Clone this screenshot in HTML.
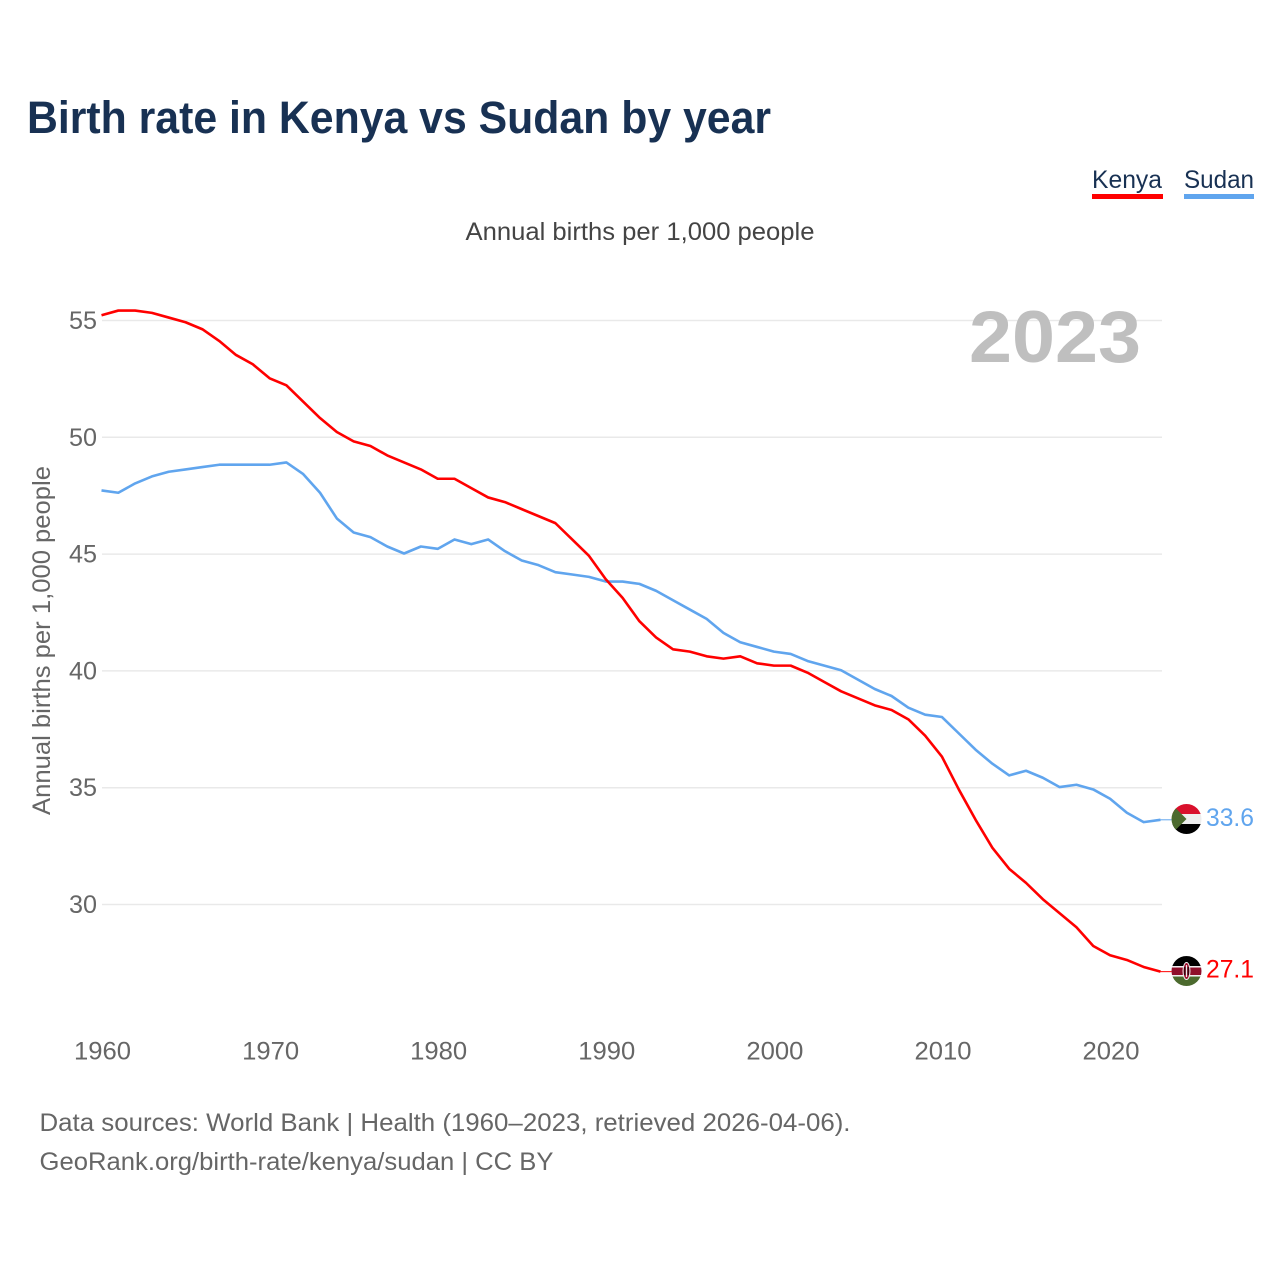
<!DOCTYPE html>
<html lang="en">
<head>
<meta charset="utf-8">
<title>Birth rate in Kenya vs Sudan by year</title>
<style>
html,body{margin:0;padding:0;background:#fff;}
svg{display:block;font-family:"Liberation Sans",sans-serif;}
</style>
</head>
<body>
<svg id="chart" xmlns="http://www.w3.org/2000/svg" width="1280" height="1280" viewBox="0 0 1280 1280">
  <defs>
    <clipPath id="flag-clip-sudan"><circle cx="0" cy="0" r="15"/></clipPath>
    <clipPath id="flag-clip-kenya"><circle cx="0" cy="0" r="15"/></clipPath>
  </defs>
  <rect x="0" y="0" width="1280" height="1280" fill="#fff"/>
  <text x="27" y="133" font-size="45" font-weight="700" fill="#183153" textLength="744" lengthAdjust="spacingAndGlyphs">Birth rate in Kenya vs Sudan by year</text>
  <g>
    <text x="1092" y="188" font-size="25" fill="#183153" textLength="70" lengthAdjust="spacingAndGlyphs">Kenya</text>
    <rect x="1092" y="194" width="71" height="5" fill="#ff0000"/>
  </g>
  <g>
    <text x="1184" y="188" font-size="25" fill="#183153" textLength="70" lengthAdjust="spacingAndGlyphs">Sudan</text>
    <rect x="1184" y="194" width="70" height="5" fill="#60a5ee"/>
  </g>
  <text x="465.500" y="240" font-size="25" fill="#444" textLength="349" lengthAdjust="spacingAndGlyphs">Annual births per 1,000 people</text>
  <text transform="translate(50,815) rotate(-90)" x="0" y="0" font-size="25" fill="#666" textLength="349" lengthAdjust="spacingAndGlyphs">Annual births per 1,000 people</text>
  <g id="grid"></g>
  <text x="969" y="362" font-size="73" font-weight="700" fill="#bfbfbf" textLength="172" lengthAdjust="spacingAndGlyphs">2023</text>
  <g id="y-ticks"></g>
  <g id="x-ticks"></g>
  <g id="series" transform="translate(-0.5,-0.6)"></g>

  <g id="flag-sudan">
    <g clip-path="url(#flag-clip-sudan)">
      <rect x="-15" y="-15" width="30" height="10" fill="#d9102c"/>
      <rect x="-15" y="-5" width="30" height="10" fill="#eeeeee"/>
      <rect x="-15" y="5" width="30" height="10" fill="#000"/>
      <polygon points="-15,-15 0,0 -15,15" fill="#4c6a2e"/>
    </g>
  </g>
  <g id="flag-kenya">
    <g clip-path="url(#flag-clip-kenya)">
      <rect x="-15" y="-15" width="30" height="10" fill="#000"/>
      <rect x="-15" y="-5" width="30" height="1.500" fill="#eee"/>
      <rect x="-15" y="-3.500" width="30" height="7.500" fill="#8f0f2b"/>
      <rect x="-15" y="4" width="30" height="1.500" fill="#eee"/>
      <rect x="-15" y="5.500" width="30" height="9.500" fill="#4c6a2e"/>
      <ellipse cx="0" cy="0" rx="3.500" ry="8.500" fill="#a01030" stroke="#eee" stroke-width="1"/>
      <rect x="-0.600" y="-6" width="1.200" height="12" fill="#eee"/>
      <rect x="-2.200" y="-4" width="1" height="8" fill="#000"/>
      <rect x="1.200" y="-4" width="1" height="8" fill="#000"/>
    </g>
  </g>
  <text id="label-sudan" x="1254" font-size="25" fill="#60a5ee" text-anchor="end" textLength="48" lengthAdjust="spacingAndGlyphs"></text>
  <text id="label-kenya" x="1254" font-size="25" fill="#ff0000" text-anchor="end" textLength="48" lengthAdjust="spacingAndGlyphs"></text>

  <text x="39.500" y="1131" font-size="25" fill="#666" textLength="811" lengthAdjust="spacingAndGlyphs">Data sources: World Bank | Health (1960–2023, retrieved 2026-04-06).</text>
  <text x="39.500" y="1170" font-size="25" fill="#666" textLength="514" lengthAdjust="spacingAndGlyphs">GeoRank.org/birth-rate/kenya/sudan | CC BY</text>
</svg>
<script>
var years = [1960,1961,1962,1963,1964,1965,1966,1967,1968,1969,1970,1971,1972,1973,1974,1975,1976,1977,1978,1979,1980,1981,1982,1983,1984,1985,1986,1987,1988,1989,1990,1991,1992,1993,1994,1995,1996,1997,1998,1999,2000,2001,2002,2003,2004,2005,2006,2007,2008,2009,2010,2011,2012,2013,2014,2015,2016,2017,2018,2019,2020,2021,2022,2023];
var kenyaValues = [55.2,55.4,55.4,55.3,55.1,54.9,54.6,54.1,53.5,53.1,52.5,52.2,51.5,50.8,50.2,49.8,49.6,49.2,48.9,48.6,48.2,48.2,47.8,47.4,47.2,46.9,46.6,46.3,45.6,44.9,43.9,43.1,42.1,41.4,40.9,40.8,40.6,40.5,40.6,40.3,40.2,40.2,39.9,39.5,39.1,38.8,38.5,38.3,37.9,37.2,36.3,34.9,33.6,32.4,31.5,30.9,30.2,29.6,29.0,28.2,27.8,27.6,27.3,27.1];
var sudanValues = [47.7,47.6,48.0,48.3,48.5,48.6,48.7,48.8,48.8,48.8,48.8,48.9,48.4,47.6,46.5,45.9,45.7,45.3,45.0,45.3,45.2,45.6,45.4,45.6,45.1,44.7,44.5,44.2,44.1,44.0,43.8,43.8,43.7,43.4,43.0,42.6,42.2,41.6,41.2,41.0,40.8,40.7,40.4,40.2,40.0,39.6,39.2,38.9,38.4,38.1,38.0,37.3,36.6,36.0,35.5,35.7,35.4,35.0,35.1,34.9,34.5,33.9,33.5,33.6];
var yTickValues = [30,35,40,45,50,55];
var xTickValues = [1960,1970,1980,1990,2000,2010,2020];

var SVG_NS = 'http://www.w3.org/2000/svg';
function xScale(year){ return 102 + (year - 1960) * (1161 - 102) / 63; }
function yScale(value){ return 904.5 - (value - 30) * (904.5 - 320.5) / 25; }
function make(tag, attrs, parent){
  var el = document.createElementNS(SVG_NS, tag);
  for (var k in attrs) el.setAttribute(k, attrs[k]);
  parent.appendChild(el);
  return el;
}

var gridGroup = document.getElementById('grid');
var yGroup = document.getElementById('y-ticks');
yTickValues.forEach(function(v){
  var line = make('line', {x1:102, x2:1162, y1:yScale(v), y2:yScale(v), stroke:'#e9e9e9', 'stroke-width':1.5}, gridGroup);
  
  
  var label = make('text', {x:97, y:yScale(v) + 8.5, 'font-size':25, fill:'#666', 'text-anchor':'end', textLength:28, lengthAdjust:'spacingAndGlyphs'}, yGroup);
  
  
  label.textContent = v;
});

var xGroup = document.getElementById('x-ticks');
xTickValues.forEach(function(v){
  var label = make('text', {x:xScale(v) + 0.5, y:1059.5, 'font-size':25, fill:'#666', 'text-anchor':'middle', textLength:57, lengthAdjust:'spacingAndGlyphs'}, xGroup);
  
  
  label.textContent = v;
});

function pathFor(values){
  return values.map(function(v, i){
    return (i ? 'L' : 'M') + xScale(years[i]).toFixed(2) + ' ' + yScale(v).toFixed(2);
  }).join(' ');
}
var seriesGroup = document.getElementById('series');

var sudanLine = make('path', {d:pathFor(sudanValues), fill:'none', stroke:'#60a5ee', 'stroke-width':2.6, 'stroke-linejoin':'round'}, seriesGroup);



var kenyaLine = make('path', {d:pathFor(kenyaValues), fill:'none', stroke:'#ff0000', 'stroke-width':2.6, 'stroke-linejoin':'round'}, seriesGroup);



var lastSudan = sudanValues[sudanValues.length - 1];
var lastKenya = kenyaValues[kenyaValues.length - 1];
var lastYear = years[years.length - 1];

var sudanLead = make('line', {x1:xScale(lastYear), x2:1172, y1:yScale(lastSudan), y2:yScale(lastSudan), stroke:'#60a5ee', 'stroke-width':1}, seriesGroup);



var kenyaLead = make('line', {x1:xScale(lastYear), x2:1172, y1:yScale(lastKenya), y2:yScale(lastKenya), stroke:'#ff0000', 'stroke-width':1}, seriesGroup);



document.getElementById('flag-sudan').setAttribute('transform', 'translate(1186.5,' + (yScale(lastSudan) - 1.4) + ')');
document.getElementById('flag-kenya').setAttribute('transform', 'translate(1186.5,' + (yScale(lastKenya) - 1.2) + ')');

var labelSudan = document.getElementById('label-sudan');
labelSudan.setAttribute('y', yScale(lastSudan) + 5.5);
labelSudan.textContent = lastSudan.toFixed(1);

var labelKenya = document.getElementById('label-kenya');
labelKenya.setAttribute('y', yScale(lastKenya) + 5.5);
labelKenya.textContent = lastKenya.toFixed(1);
</script>
</body>
</html>
